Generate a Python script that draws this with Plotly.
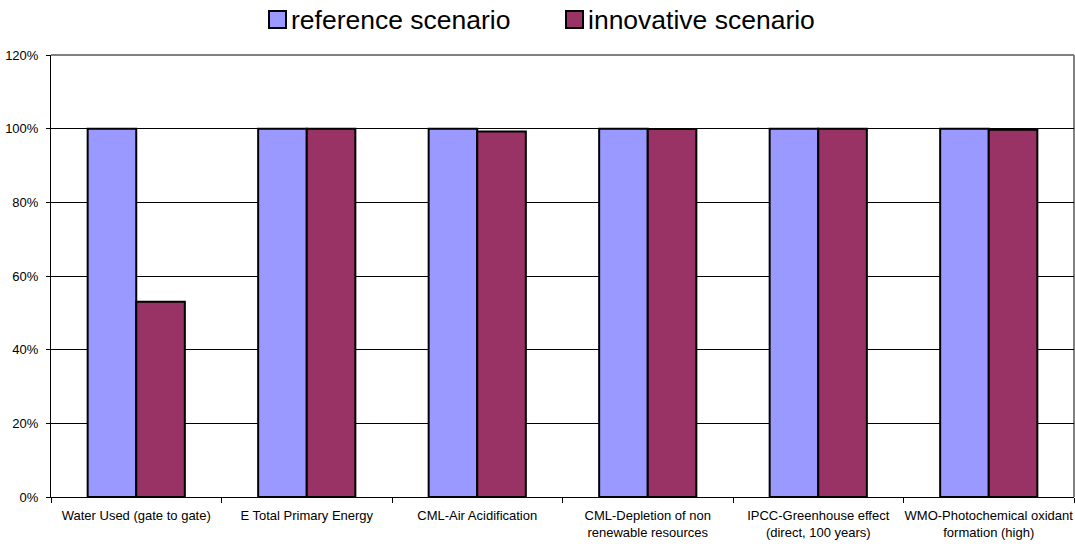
import plotly.graph_objects as go

categories = [
    "Water Used (gate to gate)",
    "E Total Primary Energy",
    "CML-Air Acidification",
    "CML-Depletion of non<br>renewable resources",
    "IPCC-Greenhouse effect<br>(direct, 100 years)",
    "WMO-Photochemical oxidant<br>formation (high)",
]
series_names = ["reference scenario", "innovative scenario"]
series_colors = ["#9999FF", "#993366"]
reference_scenario = [1.00, 1.00, 1.00, 1.00, 1.00, 1.00]
innovative_scenario = [0.53, 1.00, 0.992, 0.999, 1.00, 0.997]

# plot-area geometry in pixels (used to place the legend keys above the plot)
W, H = 1075, 544
ML, MR, MT, MB = 51, 1, 55, 47
PW, PH = W - ML - MR, H - MT - MB


def px_x(x):
    return (x - ML) / PW


def px_y(y):
    return (H - MB - y) / PH


fig = go.Figure()
for name, color, values in zip(series_names, series_colors,
                               [reference_scenario, innovative_scenario]):
    fig.add_trace(go.Bar(
        name=name, x=categories, y=values,
        marker=dict(color=color, line=dict(color="#000000", width=2)),
    ))

fig.update_layout(
    width=W, height=H,
    margin=dict(l=ML, r=MR, t=MT, b=MB),
    paper_bgcolor="white", plot_bgcolor="white",
    barmode="group", bargap=0.43, bargroupgap=0,
    font=dict(family="Liberation Sans, Arial, sans-serif", color="#000000", size=13),
    showlegend=False,
)

fig.update_yaxes(
    range=[0, 1.2], dtick=0.2, tickformat=".0%",
    showgrid=True, gridcolor="#000000", gridwidth=1,
    showline=True, linecolor="#000000", linewidth=1,
    ticks="outside", ticklen=4, tickcolor="#000000",
    ticklabelstandoff=5, zeroline=False, tickfont=dict(size=13),
)
fig.update_xaxes(
    showline=True, linecolor="#000000", linewidth=1,
    ticks="outside", tickson="boundaries", ticklen=5, tickcolor="#000000",
    ticklabelstandoff=6, tickfont=dict(size=13), tickangle=0,
)

# grey frame on the top and right sides of the plotting area
fig.add_shape(type="line", xref="paper", yref="paper", x0=0, x1=1, y0=1, y1=1,
              line=dict(color="#808080", width=2), layer="below")
fig.add_shape(type="line", xref="paper", yref="paper", x0=1, x1=1, y0=0, y1=1,
              line=dict(color="#808080", width=2), layer="below")

# legend: square keys with black outline, followed by the series names
legend_key_left = [269, 566]
for name, color, kx in zip(series_names, series_colors, legend_key_left):
    fig.add_shape(type="rect", xref="paper", yref="paper",
                  x0=px_x(kx), x1=px_x(kx + 17), y0=px_y(28), y1=px_y(11),
                  fillcolor=color, line=dict(color="#000000", width=2))
    fig.add_annotation(xref="paper", yref="paper", x=px_x(kx + 20), y=px_y(20),
                       xanchor="left", yanchor="middle", text=name,
                       showarrow=False, font=dict(size=26.5, color="#000000"))

fig.write_html("out.html")
